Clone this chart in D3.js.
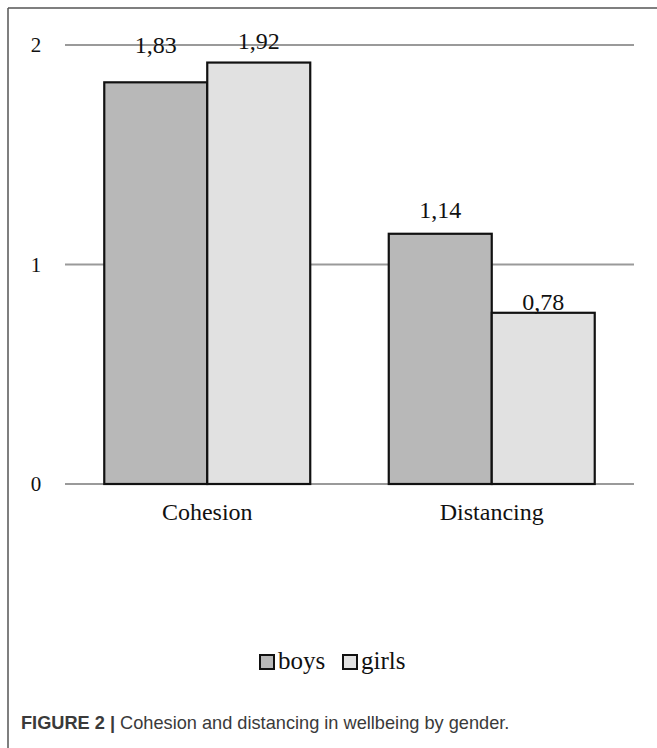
<!DOCTYPE html>
<html>
<head>
<meta charset="utf-8">
<script src="https://cdn.jsdelivr.net/npm/d3@7"></script>
<style>
  body { margin: 0; background: #fff; }
  svg { display: block; }
</style>
</head>
<body>
<script>
// data
var categories = ["Cohesion", "Distancing"]
var groups = ["boys", "girls"]
var boys = [1.83, 1.14]
var girls = [1.92, 0.78]
var valueLabels = [["1,83", "1,92"], ["1,14", "0,78"]]
var yTicks = [0, 1, 2]
var colors = {boys: "#b8b8b8", girls: "#e1e1e1"}
// gap between bar top and label baseline (the source places them unevenly)
var labelGap = [[29, 14], [16, 3]]

const width = 657, height = 748
var svg = d3.select("body").append("svg")
	.attr("width", width)
	.attr("height", height)

// frame (top + left only)
svg.append("line").attr("x1", 8).attr("x2", width).attr("y1", 8).attr("y2", 8)
	.attr("stroke", "#555").attr("stroke-width", 1.5)
svg.append("line").attr("x1", 8).attr("x2", 8).attr("y1", 8).attr("y2", height)
	.attr("stroke", "#555").attr("stroke-width", 1.5)

// scales
var x = d3.scaleBand()
	.domain(categories)
	.range([65, 634])
	.paddingInner(0.276)
	.paddingOuter(0.138)

var xInner = d3.scaleBand()
	.domain(groups)
	.range([0, x.bandwidth()])

var y = d3.scaleLinear()
	.domain([0, 2])
	.range([484, 45])

// gridlines
svg.append("g").selectAll("line")
	.data(yTicks)
	.join("line")
	.attr("x1", 65).attr("x2", 634)
	.attr("y1", d => y(d)).attr("y2", d => y(d))
	.attr("stroke", "#9a9a9a")
	.attr("stroke-width", 2)

// y tick labels
svg.append("g").selectAll("text")
	.data(yTicks)
	.join("text")
	.attr("x", 36)
	.attr("y", d => y(d))
	.attr("dy", "0.35em")
	.attr("text-anchor", "middle")
	.attr("font-family", "Liberation Serif")
	.attr("font-size", 21)
	.attr("fill", "#111")
	.text(d => d)

// bars
var rows = categories.map(function(c, i) {
	return {cat: c, values: [
		{g: "boys", v: boys[i], label: valueLabels[i][0], gap: labelGap[i][0]},
		{g: "girls", v: girls[i], label: valueLabels[i][1], gap: labelGap[i][1]}
	]}
})

var cat = svg.append("g").selectAll("g")
	.data(rows)
	.join("g")
	.attr("transform", d => "translate(" + x(d.cat) + ",0)")

cat.selectAll("rect")
	.data(d => d.values)
	.join("rect")
	.attr("x", d => xInner(d.g))
	.attr("y", d => y(d.v))
	.attr("width", xInner.bandwidth())
	.attr("height", d => y(0) - y(d.v))
	.attr("fill", d => colors[d.g])
	.attr("stroke", "#111")
	.attr("stroke-width", 2.2)

cat.selectAll("text")
	.data(d => d.values)
	.join("text")
	.attr("x", d => xInner(d.g) + xInner.bandwidth() / 2)
	.attr("y", d => y(d.v) - d.gap)
	.attr("text-anchor", "middle")
	.attr("font-family", "Liberation Serif")
	.attr("font-size", 24)
	.attr("fill", "#111")
	.text(d => d.label)

// category labels
svg.append("g").selectAll("text")
	.data(categories)
	.join("text")
	.attr("x", d => x(d) + x.bandwidth() / 2)
	.attr("y", 520)
	.attr("text-anchor", "middle")
	.attr("font-family", "Liberation Serif")
	.attr("font-size", 24)
	.attr("fill", "#111")
	.text(d => d)

// legend
var legendX = [260, 343]
var legend = svg.append("g").selectAll("g")
	.data(groups)
	.join("g")
	.attr("transform", (d, i) => "translate(" + legendX[i] + ",655)")

legend.append("rect")
	.attr("width", 14).attr("height", 14)
	.attr("fill", d => colors[d])
	.attr("stroke", "#111")
	.attr("stroke-width", 2)

legend.append("text")
	.attr("x", 18)
	.attr("y", 14)
	.attr("font-family", "Liberation Serif")
	.attr("font-size", 25)
	.attr("fill", "#111")
	.text(d => d)

// caption
var caption = svg.append("text")
	.attr("x", 21)
	.attr("y", 729)
	.attr("font-family", "Liberation Sans")
	.attr("font-size", 18.2)
	.attr("fill", "#3a3a3a")
caption.append("tspan").attr("font-weight", "bold").text("FIGURE 2 | ")
caption.append("tspan").text("Cohesion and distancing in wellbeing by gender.")
</script>
</body>
</html>
